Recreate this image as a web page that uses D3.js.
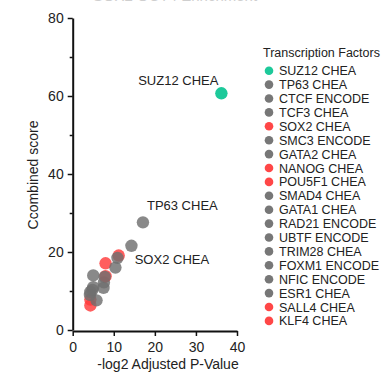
<!DOCTYPE html>
<html>
<head>
<meta charset="utf-8">
<script src="https://cdn.jsdelivr.net/npm/d3@7"></script>
<style>
  body { margin: 0; background: #fff; }
  text { font-family: "Liberation Sans", Arial, sans-serif; }
</style>
</head>
<body>
<svg id="chart" width="386" height="375"></svg>
<script>
// transcription factors, in legend order
const factors = ["SUZ12 CHEA", "TP63 CHEA", "CTCF ENCODE", "TCF3 CHEA", "SOX2 CHEA",
    "SMC3 ENCODE", "GATA2 CHEA", "NANOG CHEA", "POU5F1 CHEA", "SMAD4 CHEA",
    "GATA1 CHEA", "RAD21 ENCODE", "UBTF ENCODE", "TRIM28 CHEA", "FOXM1 ENCODE",
    "NFIC ENCODE", "ESR1 CHEA", "SALL4 CHEA", "KLF4 CHEA"];
const groups = ["top", "other", "other", "other", "pluri",
    "other", "other", "pluri", "pluri", "other",
    "other", "other", "other", "other", "other",
    "other", "other", "pluri", "pluri"];
const negLog2P = [36.2, 17.1, 14.3, 10.9, 11.2, 10.4, 7.8, 8.0, 8.0, 5.0,
    7.6, 7.5, 5.0, 4.8, 4.3, 4.2, 5.8, 4.3, 4.3];
const combined = [60.7, 27.6, 21.6, 18.5, 19.1, 16.0, 13.6, 17.1, 13.8, 14.0,
    12.2, 10.8, 11.0, 10.3, 9.8, 9.0, 7.6, 7.8, 6.3];
const labelled = ["SUZ12 CHEA", "TP63 CHEA", "SOX2 CHEA"];

const xTicks = [0, 10, 20, 30, 40];
const yTicks = [0, 20, 40, 60, 80];
const yMinor = [10, 30, 50, 70];

const COLORS = { top: '#1dc99a', other: '#6f6f6f', pluri: '#ff3b3b' };

const svg = d3.select('#chart');

const x = d3.scaleLinear().domain([0, 40]).range([72.7, 237]);
const y = d3.scaleLinear().domain([0, 80]).range([330, 18]);

// title, mostly cut off by the top edge
svg.append('text')
    .attr('x', 175).attr('y', 0.5)
    .attr('text-anchor', 'middle')
    .attr('font-size', 15)
    .attr('fill', '#cfcfcf')
    .text('SOX2 OCT4 Enrichment');

// axes
const xAxis = svg.append('g')
    .attr('transform', 'translate(0,331)')
    .call(d3.axisBottom(x).tickValues(xTicks).tickSize(5).tickSizeOuter(0));
const yAxis = svg.append('g')
    .attr('transform', 'translate(72.7,0)')
    .call(d3.axisLeft(y).tickValues(yTicks).tickSize(5).tickSizeOuter(0));
svg.append('g')
    .attr('transform', 'translate(72.7,0)')
    .call(d3.axisLeft(y).tickValues(yMinor).tickSize(3).tickFormat('').tickSizeOuter(0))
    .select('.domain').remove();

[xAxis, yAxis].forEach(g => {
    g.select('.domain').attr('stroke', '#111').attr('stroke-width', 2);
    g.selectAll('.tick text')
        .attr('font-size', 14)
        .attr('fill', '#222')
        .style('font-family', '"Liberation Sans", Arial, sans-serif');
});
svg.selectAll('.tick line').attr('stroke', '#111').attr('stroke-width', 1.5);
xAxis.selectAll('.tick text').attr('dy', '0.95em');
yAxis.selectAll('.tick text').attr('dx', '-1');

// axis titles
svg.append('text')
    .attr('x', 168).attr('y', 369)
    .attr('text-anchor', 'middle')
    .attr('font-size', 14)
    .attr('fill', '#222')
    .text('-log2 Adjusted P-Value');

svg.append('text')
    .attr('transform', 'translate(38,175) rotate(-90)')
    .attr('text-anchor', 'middle')
    .attr('font-size', 14)
    .attr('fill', '#222')
    .text('Ccombined score');

// points, drawn back to front so the big ones sit on top
const points = factors.map((name, i) => ({
    name: name, group: groups[i], px: negLog2P[i], score: combined[i]
}));

svg.append('g')
    .selectAll('circle')
    .data(points.slice().reverse())
    .join('circle')
    .attr('cx', d => x(d.px))
    .attr('cy', d => y(d.score))
    .attr('r', 6.2)
    .attr('fill', d => COLORS[d.group])
    .attr('fill-opacity', d => d.group === 'top' ? 1 : 0.82);

// annotations next to the points
const LABEL_OFFSETS = {
    "SUZ12 CHEA": { dx: -3, dy: -8, anchor: 'end' },
    "TP63 CHEA": { dx: 4, dy: -12, anchor: 'start' },
    "SOX2 CHEA": { dx: 16, dy: 8, anchor: 'start' }
};
points.filter(d => labelled.includes(d.name)).forEach(d => {
    const o = LABEL_OFFSETS[d.name];
    svg.append('text')
        .attr('x', x(d.px) + o.dx)
        .attr('y', y(d.score) + o.dy)
        .attr('text-anchor', o.anchor)
        .attr('font-size', 13)
        .attr('fill', '#222')
        .text(d.name);
});

// legend
const LEG_X = 269;
const LEG_Y = 70.7;
const ROW_H = 13.9;

svg.append('text')
    .attr('x', 263).attr('y', 57)
    .attr('font-size', 12.5)
    .attr('fill', '#222')
    .text('Transcription Factors');

const legend = svg.append('g')
    .selectAll('g')
    .data(points)
    .join('g')
    .attr('transform', (d, i) => 'translate(' + LEG_X + ',' + (LEG_Y + i * ROW_H) + ')');

legend.append('circle')
    .attr('r', 4.3)
    .attr('fill', d => d.group === 'other' ? '#777' : (d.group === 'top' ? COLORS.top : '#ff4747'));

legend.append('text')
    .attr('x', 10).attr('y', 4.5)
    .attr('font-size', 12.5)
    .attr('fill', '#222')
    .text(d => d.name);
</script>
</body>
</html>
